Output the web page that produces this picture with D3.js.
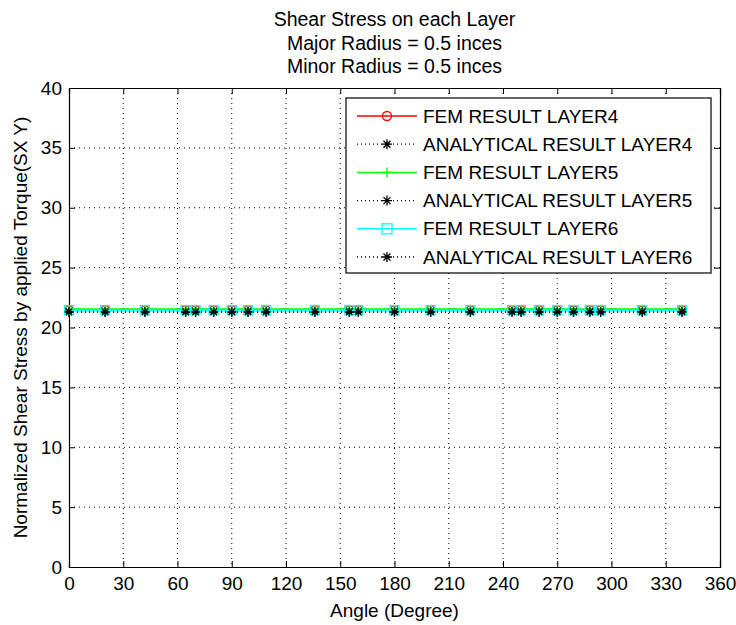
<!DOCTYPE html>
<html>
<head>
<meta charset="utf-8">
<script src="https://cdn.jsdelivr.net/npm/d3@7"></script>
<style>
  body { margin: 0; background: #fff; }
  text { font-family: "Liberation Sans", Arial, sans-serif; fill: #000; }
</style>
</head>
<body>
<div id="chart"></div>
<script>
// angles (degree) of the sample nodes
var angles = [0, 20, 42, 64.5, 70, 80, 90, 99, 109, 136, 155, 160, 180, 200, 222, 245, 250, 260, 270, 279, 288, 294, 317, 339]

var femLayer4 = [21.48, 21.48, 21.48, 21.48, 21.48, 21.48, 21.48, 21.48, 21.48, 21.48, 21.48, 21.48, 21.48, 21.48, 21.48, 21.48, 21.48, 21.48, 21.48, 21.48, 21.48, 21.48, 21.48, 21.48]
var anaLayer4 = [21.3, 21.3, 21.3, 21.3, 21.3, 21.3, 21.3, 21.3, 21.3, 21.3, 21.3, 21.3, 21.3, 21.3, 21.3, 21.3, 21.3, 21.3, 21.3, 21.3, 21.3, 21.3, 21.3, 21.3]
var femLayer5 = [21.52, 21.52, 21.52, 21.52, 21.52, 21.52, 21.52, 21.52, 21.52, 21.52, 21.52, 21.52, 21.52, 21.52, 21.52, 21.52, 21.52, 21.52, 21.52, 21.52, 21.52, 21.52, 21.52, 21.52]
var anaLayer5 = [21.3, 21.3, 21.3, 21.3, 21.3, 21.3, 21.3, 21.3, 21.3, 21.3, 21.3, 21.3, 21.3, 21.3, 21.3, 21.3, 21.3, 21.3, 21.3, 21.3, 21.3, 21.3, 21.3, 21.3]
var femLayer6 = [21.45, 21.45, 21.45, 21.45, 21.45, 21.45, 21.45, 21.45, 21.45, 21.45, 21.45, 21.45, 21.45, 21.45, 21.45, 21.45, 21.45, 21.45, 21.45, 21.45, 21.45, 21.45, 21.45, 21.45]
var anaLayer6 = [21.3, 21.3, 21.3, 21.3, 21.3, 21.3, 21.3, 21.3, 21.3, 21.3, 21.3, 21.3, 21.3, 21.3, 21.3, 21.3, 21.3, 21.3, 21.3, 21.3, 21.3, 21.3, 21.3, 21.3]

var xTicks = [0, 30, 60, 90, 120, 150, 180, 210, 240, 270, 300, 330, 360]
var yTicks = [0, 5, 10, 15, 20, 25, 30, 35, 40]

var titleLines = ["Shear Stress on each Layer", "Major Radius = 0.5 inces", "Minor Radius = 0.5 inces"]

var series = [
  {name: "FEM RESULT LAYER4", values: femLayer4, color: "#ff0000", dash: null, marker: "circle"},
  {name: "ANALYTICAL RESULT LAYER4", values: anaLayer4, color: "#000", dash: "1,3", marker: "star"},
  {name: "FEM RESULT LAYER5", values: femLayer5, color: "#00ff00", dash: null, marker: "plus"},
  {name: "ANALYTICAL RESULT LAYER5", values: anaLayer5, color: "#000", dash: "1,3", marker: "star"},
  {name: "FEM RESULT LAYER6", values: femLayer6, color: "#00ffff", dash: null, marker: "square"},
  {name: "ANALYTICAL RESULT LAYER6", values: anaLayer6, color: "#000", dash: "1,3", marker: "star"}
]

var W = 736, H = 625
var margin = {top: 88, right: 16, bottom: 58, left: 69}
var width = W - margin.left - margin.right,
    height = H - margin.top - margin.bottom

var svg = d3.select("#chart").append("svg").attr("width", W).attr("height", H)
var g = svg.append("g").attr("transform", "translate(" + margin.left + "," + margin.top + ")")

var x = d3.scaleLinear().domain([0, 360]).range([0, width])
var y = d3.scaleLinear().domain([0, 40]).range([height, 0])

// grid
g.selectAll("line.gx").data(xTicks.slice(1, -1)).enter().append("line")
  .attr("x1", d => x(d)).attr("x2", d => x(d)).attr("y1", 0).attr("y2", height)
  .attr("stroke", "#000").attr("stroke-width", 1).attr("stroke-dasharray", "1,4")
g.selectAll("line.gy").data(yTicks.slice(1, -1)).enter().append("line")
  .attr("x1", 0).attr("x2", width).attr("y1", d => y(d)).attr("y2", d => y(d))
  .attr("stroke", "#000").attr("stroke-width", 1).attr("stroke-dasharray", "1,4")

// axes, ticks pointing inward on all four sides
var tl = 6
var axB = g.append("g").attr("transform", "translate(0," + height + ")")
  .call(d3.axisBottom(x).tickValues(xTicks).tickSize(-tl).tickPadding(10))
var axT = g.append("g").call(d3.axisTop(x).tickValues(xTicks).tickSize(-tl).tickFormat(""))
var axL = g.append("g").call(d3.axisLeft(y).tickValues(yTicks).tickSize(-tl).tickPadding(7))
var axR = g.append("g").attr("transform", "translate(" + width + ",0)")
  .call(d3.axisRight(y).tickValues(yTicks).tickSize(-tl).tickFormat(""))
;[axB, axT, axL, axR].forEach(function(a){
  a.select(".domain").attr("stroke", "#000").attr("stroke-width", 1.2)
  a.selectAll(".tick line").attr("stroke", "#000")
  a.selectAll("text").style("font-size", "19px").style("font-family", "Liberation Sans, Arial, sans-serif").attr("fill", "#000")
})
axB.selectAll("text").attr("dy", "0.71em")

// marker drawing
function drawMarker(sel, type, color, s) {
  if (type == "circle") {
    sel.append("circle").attr("r", s * 0.45).attr("fill", "none").attr("stroke", color).attr("stroke-width", 1.3)
  } else if (type == "square") {
    sel.append("rect").attr("x", -s / 2).attr("y", -s / 2).attr("width", s).attr("height", s)
      .attr("fill", "none").attr("stroke", color).attr("stroke-width", 1.3)
  } else if (type == "plus") {
    sel.append("path").attr("d", "M" + (-s / 2) + ",0H" + (s / 2) + "M0," + (-s / 2) + "V" + (s / 2))
      .attr("stroke", color).attr("stroke-width", 1.3)
  } else {
    var a = s / 2, b = s * 0.35
    sel.append("path").attr("d", "M" + (-a) + ",0H" + a + "M0," + (-a) + "V" + a +
        "M" + (-b) + "," + (-b) + "L" + b + "," + b + "M" + (-b) + "," + b + "L" + b + "," + (-b))
      .attr("stroke", color).attr("stroke-width", 1.3)
  }
}

var line = d3.line().x(d => x(d[0])).y(d => y(d[1]))

series.forEach(function(s) {
  var pts = angles.map(function(a, i){ return [a, s.values[i]] })
  g.append("path").datum(pts).attr("d", line).attr("fill", "none")
    .attr("stroke", s.color).attr("stroke-width", s.dash ? 1.3 : 2)
    .attr("stroke-dasharray", s.dash)
  g.selectAll(null).data(pts).enter().append("g")
    .attr("transform", d => "translate(" + x(d[0]) + "," + y(d[1]) + ")")
    .each(function(){ drawMarker(d3.select(this), s.marker, s.color, 9) })
})

// legend
var lg = svg.append("g").attr("transform", "translate(346,98)")
lg.append("rect").attr("width", 365).attr("height", 175).attr("fill", "#fff").attr("stroke", "#000").attr("stroke-width", 1.2)
var rows = lg.selectAll("g.row").data(series).enter().append("g")
  .attr("transform", (d, i) => "translate(0," + (18 + i * 28.2) + ")")
rows.append("line").attr("x1", 11).attr("x2", 71)
  .attr("stroke", d => d.color).attr("stroke-width", d => d.dash ? 1.3 : 1.5)
  .attr("stroke-dasharray", d => d.dash)
rows.each(function(d){
  var m = d3.select(this).append("g").attr("transform", "translate(41,0)")
  drawMarker(m, d.marker, d.color, 10)
})
rows.append("text").attr("x", 77).attr("dy", "0.35em").style("font-size", "19px").text(d => d.name)

// title
svg.append("g").selectAll("text").data(titleLines).enter().append("text")
  .attr("x", margin.left + width / 2).attr("y", (d, i) => 26 + i * 23.5)
  .attr("text-anchor", "middle").style("font-size", "19.5px").text(d => d)

// axis labels
svg.append("text").attr("x", margin.left + width / 2).attr("y", 617)
  .attr("text-anchor", "middle").style("font-size", "19px").text("Angle (Degree)")
svg.append("text").attr("transform", "translate(27," + (margin.top + height / 2) + ") rotate(-90)")
  .attr("text-anchor", "middle").style("font-size", "19px").text("Normalized Shear Stress by applied Torque(SX Y)")
</script>
</body>
</html>
